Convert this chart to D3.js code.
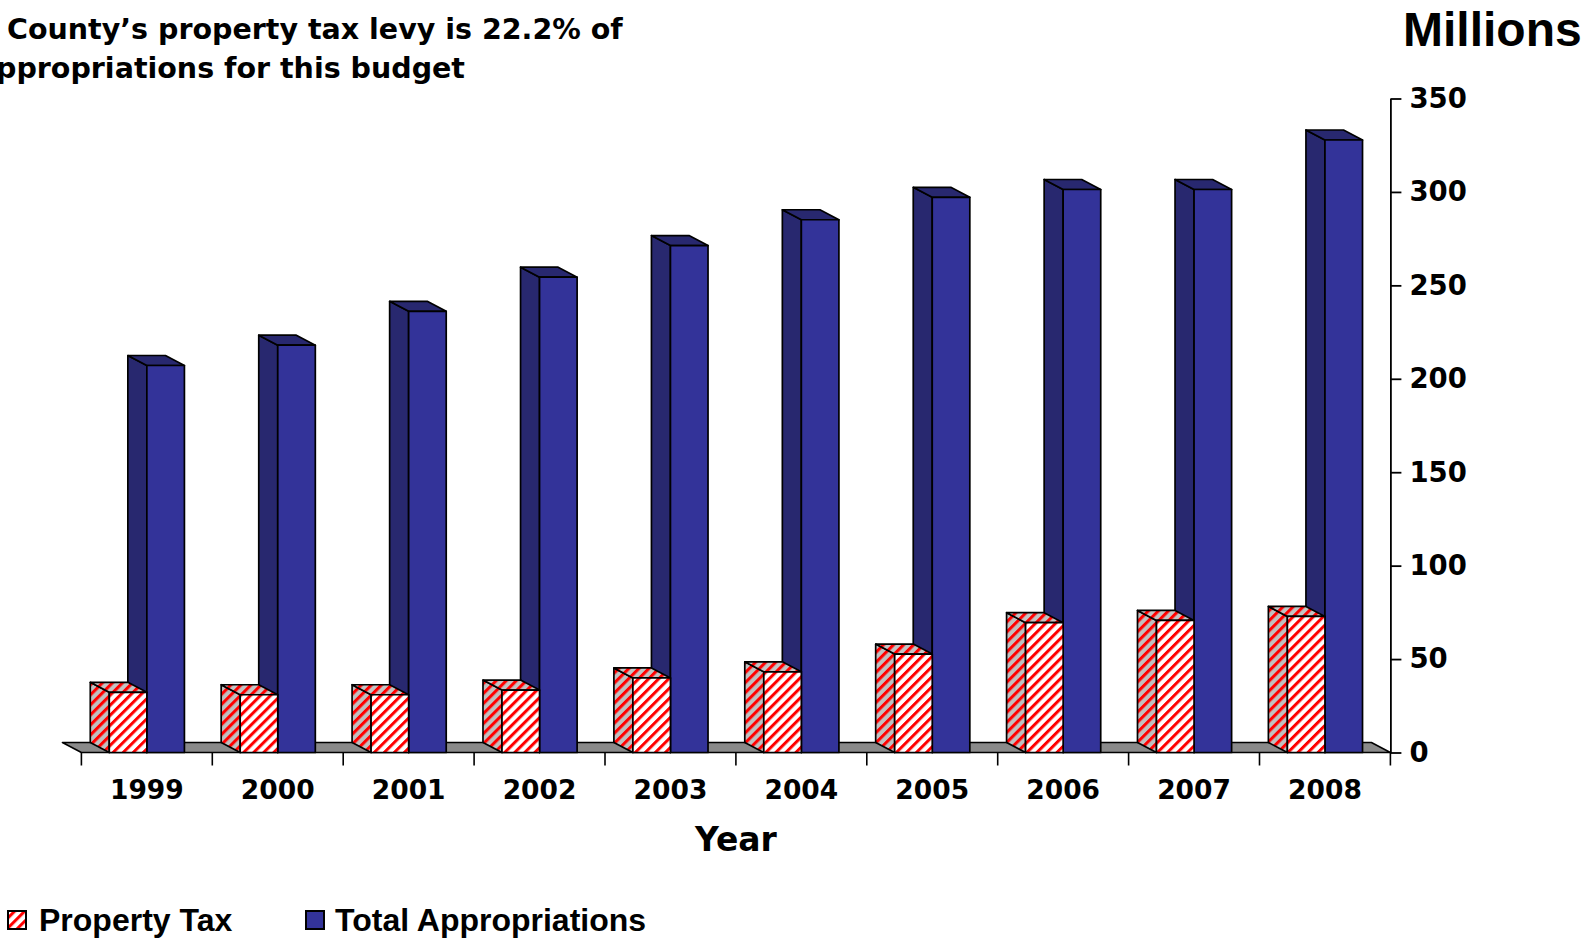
<!DOCTYPE html>
<html>
<head>
<meta charset="utf-8">
<script src="https://cdn.jsdelivr.net/npm/d3@7"></script>
<style>
  html, body { margin: 0; padding: 0; background: #ffffff; }
  svg { display: block; }
</style>
</head>
<body>
<script>
// Budget history, in millions of dollars
const years = ['1999', '2000', '2001', '2002', '2003', '2004', '2005', '2006', '2007', '2008'];
const propertyTax = [32.2, 30.9, 30.9, 33.4, 39.9, 43.2, 52.7, 69.5, 70.7, 72.8];
const totalAppropriations = [207.1, 218.0, 236.1, 254.4, 271.3, 285.1, 297.1, 301.3, 301.3, 327.8];
const yTicks = [0, 50, 100, 150, 200, 250, 300, 350];
const seriesNames = ['Property Tax', 'Total Appropriations'];

const W = 1596, H = 939;
const DEPTH_X = -19, DEPTH_Y = -10;   // oblique offset of the back plane
const stroke = '#000000';

const svg = d3.select('body').append('svg')
  .attr('width', W).attr('height', H);

const defs = svg.append('defs');
function stripePattern(id, bg) {
  const p = defs.append('pattern')
    .attr('id', id)
    .attr('patternUnits', 'userSpaceOnUse')
    .attr('width', 7.1).attr('height', 7.1)
    .attr('patternTransform', 'rotate(45)');
  p.append('rect').attr('width', 7.1).attr('height', 7.1).attr('fill', bg);
  p.append('rect').attr('width', 3.0).attr('height', 7.1).attr('fill', '#ff0000');
}
stripePattern('taxFront', '#ffffff');
stripePattern('taxSide', '#c0c0c0');
stripePattern('taxTop', '#c4c4c4');

const x = d3.scaleBand().domain(years).range([81.4, 1390.4]).padding(0);
const y = d3.scaleLinear().domain([0, 350]).range([752.5, 98.5]);
const barW = x.bandwidth() * 0.287;

// Floor slab
const fx0 = x.range()[0], fx1 = x.range()[1], fy = y(0);
svg.append('path')
  .attr('d', d3.line()([[fx0, fy], [fx1, fy], [fx1 + DEPTH_X, fy + DEPTH_Y], [fx0 + DEPTH_X, fy + DEPTH_Y]]) + 'Z')
  .attr('fill', '#8a8a8a').attr('stroke', stroke).attr('stroke-width', 1.5)
  .attr('stroke-linejoin', 'round');

function drawBox(g, x0, x1, yTop, yBot, fills) {
  const line = d3.line();
  g.append('path')
    .attr('d', line([[x0, yBot], [x0, yTop], [x0 + DEPTH_X, yTop + DEPTH_Y], [x0 + DEPTH_X, yBot + DEPTH_Y]]) + 'Z')
    .attr('fill', fills.side);
  g.append('path')
    .attr('d', line([[x0, yTop], [x1, yTop], [x1 + DEPTH_X, yTop + DEPTH_Y], [x0 + DEPTH_X, yTop + DEPTH_Y]]) + 'Z')
    .attr('fill', fills.top);
  g.append('rect')
    .attr('x', x0).attr('y', yTop).attr('width', x1 - x0).attr('height', yBot - yTop)
    .attr('fill', fills.front);
  g.selectAll('path, rect')
    .attr('stroke', stroke).attr('stroke-width', 1.7).attr('stroke-linejoin', 'round');
}

const blueFills = { front: '#333399', side: '#28286f', top: '#28286f' };
const taxFills = { front: 'url(#taxFront)', side: 'url(#taxSide)', top: 'url(#taxTop)' };

const bars = svg.append('g');
years.forEach((yr, i) => {
  const c = x(yr) + x.bandwidth() / 2;
  const g = bars.append('g');
  drawBox(g, c, c + barW, y(totalAppropriations[i]), y(0), blueFills);
  drawBox(g, c - barW, c, y(propertyTax[i]), y(0), taxFills);
});

// Category axis: ticks below the floor, year labels
const xAxis = svg.append('g');
const bounds = years.map(yr => x(yr)).concat([x.range()[1]]);
xAxis.selectAll('line').data(bounds).join('line')
  .attr('x1', d => d).attr('x2', d => d)
  .attr('y1', y(0)).attr('y2', y(0) + 13)
  .attr('stroke', stroke).attr('stroke-width', 1.6);
xAxis.selectAll('text').data(years).join('text')
  .attr('x', d => x(d) + x.bandwidth() / 2)
  .attr('y', 799)
  .attr('text-anchor', 'middle')
  .attr('font-family', 'DejaVu Sans, Verdana, sans-serif')
  .attr('font-weight', 'bold').attr('font-size', 26.5)
  .text(d => d);

svg.append('text')
  .attr('x', 736).attr('y', 851)
  .attr('text-anchor', 'middle')
  .attr('font-family', 'DejaVu Sans, Verdana, sans-serif')
  .attr('font-weight', 'bold').attr('font-size', 33)
  .text('Year');

// Value axis on the right
const axisX = x.range()[1];
const yAxis = svg.append('g').attr('transform', `translate(${axisX},0)`)
  .call(d3.axisRight(y).tickValues(yTicks).tickSize(11).tickPadding(8).tickSizeOuter(0));
yAxis.select('.domain').attr('stroke', stroke).attr('stroke-width', 1.8);
yAxis.selectAll('.tick line').attr('stroke', stroke).attr('stroke-width', 1.8);
yAxis.selectAll('.tick text')
  .attr('fill', '#000')
  .attr('font-family', 'DejaVu Sans, Verdana, sans-serif')
  .attr('font-weight', 'bold').attr('font-size', 27.5);

svg.append('text')
  .attr('x', 1403).attr('y', 46)
  .attr('font-family', 'Liberation Sans, Arial, sans-serif')
  .attr('font-weight', 'bold').attr('font-size', 48)
  .text('Millions');

// Headline (runs off the left edge of the page)
const title1 = svg.append('text')
  .attr('x', 7).attr('y', 39)
  .attr('font-family', 'DejaVu Sans, Verdana, sans-serif')
  .attr('font-weight', 'bold').attr('font-size', 28)
  .text('County\u2019s property tax levy is 22.2% of');
const w1 = title1.node().getComputedTextLength();
const titleSize = 28 * 616 / w1;
title1.attr('font-size', titleSize);
svg.append('text')
  .attr('x', 465).attr('y', 78)
  .attr('text-anchor', 'end')
  .attr('font-family', 'DejaVu Sans, Verdana, sans-serif')
  .attr('font-weight', 'bold').attr('font-size', titleSize)
  .text('appropriations for this budget');

// Legend
const legend = svg.append('g');
const legendItems = [
  { name: seriesNames[0], fill: 'url(#taxFront)', sx: 8, tx: 39 },
  { name: seriesNames[1], fill: '#333399', sx: 306, tx: 335 }
];
legendItems.forEach(it => {
  legend.append('rect')
    .attr('x', it.sx).attr('y', 911).attr('width', 18).attr('height', 18)
    .attr('fill', it.fill).attr('stroke', stroke).attr('stroke-width', 2);
  legend.append('text')
    .attr('x', it.tx).attr('y', 931)
    .attr('font-family', 'Liberation Sans, Arial, sans-serif')
    .attr('font-weight', 'bold').attr('font-size', 32)
    .text(it.name);
});
</script>
</body>
</html>
